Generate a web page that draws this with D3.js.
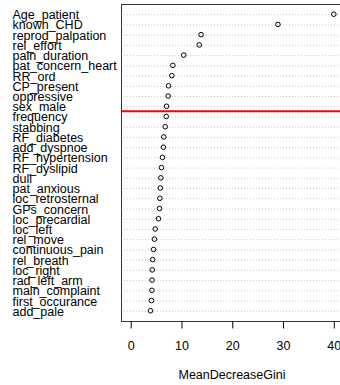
<!DOCTYPE html>
<html>
<head>
<meta charset="utf-8">
<script src="https://cdn.jsdelivr.net/npm/d3@7"></script>
<style>
  html, body { margin: 0; padding: 0; background: #ffffff; }
  svg { display: block; }
  text { font-family: "Liberation Sans", Arial, Helvetica, sans-serif; }
</style>
</head>
<body>
<svg id="chart" width="340" height="385"></svg>
<script>
// ---- data ----
const variables = [
  "Age_patient", "known_CHD", "reprod_palpation", "rel_effort", "pain_duration",
  "pat_concern_heart", "RR_ord", "CP_present", "oppressive", "sex_male",
  "frequency", "stabbing", "RF_diabetes", "add_dyspnoe", "RF_hypertension",
  "RF_dyslipid", "dull", "pat_anxious", "loc_retrosternal", "GPs_concern",
  "loc_precardial", "loc_left", "rel_move", "continuous_pain", "rel_breath",
  "loc_right", "rad_left_arm", "main_complaint", "first_occurance", "add_pale"
];
const meanDecreaseGini = [
  40.1, 29.1, 13.95, 13.6, 10.55,
  8.4, 8.2, 7.55, 7.48, 7.15,
  7.1, 6.9, 6.62, 6.55, 6.36,
  6.16, 6.04, 5.92, 5.85, 5.77,
  5.57, 4.92, 4.78, 4.6, 4.42,
  4.34, 4.3, 4.27, 4.18, 4.0
];
const xTicks = [0, 10, 20, 30, 40];
const xTitle = "MeanDecreaseGini";
const cutAfter = "sex_male"; // red separator line after this variable

// ---- layout ----
const box = { left: 121, right: 343, top: 4, bottom: 321 };
const svg = d3.select("#chart");

const x = d3.scaleLinear().domain([0, 40]).range([130.2, 333.3]);
// rows: n items, ylim = [0, n+1] top to bottom
const n = variables.length;
const y = d3.scaleLinear().domain([0, n + 1]).range([box.top, box.bottom]);
const rowY = (i) => y(i + 1);

// dotted guide lines
svg.append("g").selectAll("line")
  .data(variables)
  .join("line")
  .attr("x1", box.left).attr("x2", box.right)
  .attr("y1", (d, i) => rowY(i) + 0.5).attr("y2", (d, i) => rowY(i) + 0.5)
  .attr("stroke", "#c8c8c8")
  .attr("stroke-width", 1)
  .attr("stroke-dasharray", "1,2");

// labels
svg.append("g").selectAll("text")
  .data(variables)
  .join("text")
  .attr("x", 12.5)
  .attr("y", (d, i) => rowY(i) + 5)
  .attr("font-size", "12.5px")
  .attr("fill", "#000")
  .text(d => d);

// red separator
const cutIdx = variables.indexOf(cutAfter);
const redY = (rowY(cutIdx) + rowY(cutIdx + 1)) / 2;
svg.append("line")
  .attr("x1", box.left).attr("x2", box.right)
  .attr("y1", redY).attr("y2", redY)
  .attr("stroke", "#ff0000")
  .attr("stroke-width", 2);

// points
svg.append("g").selectAll("circle")
  .data(meanDecreaseGini)
  .join("circle")
  .attr("cx", d => x(d))
  .attr("cy", (d, i) => rowY(i))
  .attr("r", 2.3)
  .attr("fill", "none")
  .attr("stroke", "#000")
  .attr("stroke-width", 1);

// box
svg.append("rect")
  .attr("x", box.left + 0.5).attr("y", box.top + 0.5)
  .attr("width", box.right - box.left).attr("height", box.bottom - box.top)
  .attr("fill", "none")
  .attr("stroke", "#333")
  .attr("stroke-width", 1);

// x axis
const axis = d3.axisBottom(x).tickValues(xTicks).tickSize(7).tickPadding(13).tickFormat(d3.format("d"));
const gx = svg.append("g")
  .attr("transform", `translate(0.5,${box.bottom + 0.5})`)
  .call(axis);
gx.select(".domain").remove();
gx.selectAll("line").attr("stroke", "#000");
gx.selectAll("text")
  .attr("font-size", "12.5px")
  .attr("fill", "#000")
  .attr("font-family", "Liberation Sans, Arial, sans-serif");

// axis title
svg.append("text")
  .attr("x", (box.left + box.right) / 2)
  .attr("y", 379)
  .attr("text-anchor", "middle")
  .attr("font-size", "12.5px")
  .attr("fill", "#000")
  .text(xTitle);
</script>
</body>
</html>
